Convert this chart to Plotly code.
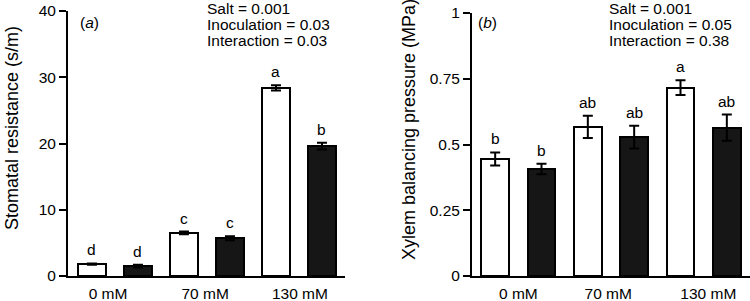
import plotly.graph_objects as go

# ---- data ----
groups = ["0 mM", "70 mM", "130 mM"]

stomatal_resist = [1.8, 1.5, 6.5, 5.7, 28.4, 19.6]
stomatal_err = [0.1, 0.2, 0.2, 0.3, 0.4, 0.5]
stomatal_letters = ["d", "d", "c", "c", "a", "b"]

xylem_pressure = [0.445, 0.407, 0.567, 0.528, 0.716, 0.564]
xylem_err = [0.025, 0.02, 0.042, 0.043, 0.028, 0.05]
xylem_letters = ["b", "b", "ab", "ab", "a", "ab"]

stats_a = ["Salt = 0.001", "Inoculation = 0.03", "Interaction = 0.03"]
stats_b = ["Salt = 0.001", "Inoculation = 0.05", "Interaction = 0.38"]

ytick_a = [0, 10, 20, 30, 40]
ytick_b = [0, 0.25, 0.5, 0.75, 1]
ytick_b_text = ["0", "0.25", "0.5", "0.75", "1"]

FONT = "Liberation Sans, Arial, Helvetica, sans-serif"
FS = 15.5
BLACK = "#000000"
DARK = "#161616"

positions = list(range(6))
fills = [("white" if i % 2 == 0 else DARK) for i in positions]

fig = go.Figure()

fig.add_trace(go.Bar(
    x=positions, y=stomatal_resist, width=0.6,
    marker=dict(color=fills, line=dict(color=BLACK, width=2)),
    error_y=dict(type="data", array=stomatal_err, color=BLACK, thickness=2, width=5),
    xaxis="x", yaxis="y", showlegend=False,
))
fig.add_trace(go.Bar(
    x=positions, y=xylem_pressure, width=0.6,
    marker=dict(color=fills, line=dict(color=BLACK, width=2)),
    error_y=dict(type="data", array=xylem_err, color=BLACK, thickness=2, width=5),
    xaxis="x2", yaxis="y2", showlegend=False,
))

annotations = []
# significance letters
for i, (v, e, t) in enumerate(zip(stomatal_resist, stomatal_err, stomatal_letters)):
    annotations.append(dict(x=i, y=v + e, xref="x", yref="y", text=t, showarrow=False,
                            yanchor="bottom", yshift=3, font=dict(size=FS, color=BLACK, family=FONT)))
for i, (v, e, t) in enumerate(zip(xylem_pressure, xylem_err, xylem_letters)):
    annotations.append(dict(x=i, y=v + e, xref="x2", yref="y2", text=t, showarrow=False,
                            yanchor="bottom", yshift=3, font=dict(size=FS, color=BLACK, family=FONT)))

# stats text
line_y = [1.0113, 0.951, 0.8906]
for s, yy in zip(stats_a, line_y):
    annotations.append(dict(x=2.457, y=yy, xref="x", yref="paper", text=s, showarrow=False, height=16,
                            xanchor="left", yanchor="middle", font=dict(size=FS, color=BLACK, family=FONT)))
for s, yy in zip(stats_b, line_y):
    annotations.append(dict(x=2.41, y=yy, xref="x2", yref="paper", text=s, showarrow=False, height=16,
                            xanchor="left", yanchor="middle", font=dict(size=FS, color=BLACK, family=FONT)))

# panel labels
annotations.append(dict(x=-0.3, y=0.958, xref="x", yref="paper", text="(<i>a</i>)", showarrow=False,
                        xanchor="left", yanchor="middle", font=dict(size=FS, color=BLACK, family=FONT)))
annotations.append(dict(x=-0.42, y=0.958, xref="x2", yref="paper", text="(<i>b</i>)", showarrow=False,
                        xanchor="left", yanchor="middle", font=dict(size=FS, color=BLACK, family=FONT)))

# y-axis titles
annotations.append(dict(x=12 / 750, y=0.5585, xref="paper", yref="paper", text="Stomatal resistance (s/m)",
                        showarrow=False, textangle=-90, xanchor="center", yanchor="middle",
                        font=dict(size=18, color=BLACK, family=FONT)))
annotations.append(dict(x=409 / 750, y=0.551, xref="paper", yref="paper", text="Xylem balancing pressure (MPa)",
                        showarrow=False, textangle=-90, xanchor="center", yanchor="middle",
                        font=dict(size=18, color=BLACK, family=FONT)))

axis_common = dict(showgrid=False, zeroline=False, showline=True, linecolor=BLACK, linewidth=2,
                   automargin=False, tickfont=dict(size=FS, color=BLACK, family=FONT))

fig.update_layout(
    width=750, height=301,
    margin=dict(l=0, r=0, t=11, b=25),
    paper_bgcolor="white", plot_bgcolor="white",
    bargap=0,
    font=dict(family=FONT, color=BLACK, size=FS),
    xaxis=dict(domain=[68 / 750, 345 / 750], range=[-0.52, 5.5], ticks="", ticklabelstandoff=2,
               tickmode="array", tickvals=[0.35, 2.46, 4.52], ticktext=groups, anchor="y", **axis_common),
    yaxis=dict(domain=[0, 1], range=[0, 40], ticks="outside", ticklen=7, tickwidth=2, tickcolor=BLACK,
               tickmode="array", tickvals=ytick_a, anchor="x", **axis_common),
    xaxis2=dict(domain=[472 / 750, 1.0], range=[-0.5, 5.5], ticks="", ticklabelstandoff=2,
                tickmode="array", tickvals=[0.5, 2.44, 4.6], ticktext=groups, anchor="y2", **axis_common),
    yaxis2=dict(domain=[0, 263 / 265], range=[0, 1], ticks="outside", ticklen=7, tickwidth=2, tickcolor=BLACK,
                tickmode="array", tickvals=ytick_b, ticktext=ytick_b_text, anchor="x2", **axis_common),
    annotations=annotations,
)

fig.write_html("out.html",
               config={"displayModeBar": False},
               post_script="document.body.style.margin='0';document.body.style.padding='0';"
                           "document.documentElement.style.overflow='hidden';")
